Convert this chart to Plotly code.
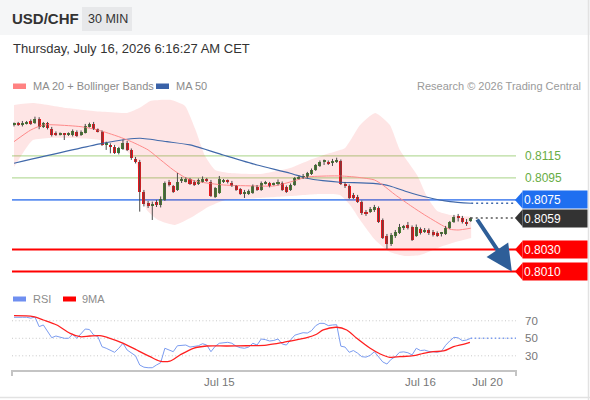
import plotly.graph_objects as go

# USD/CHF, 30 minute candles, one per half hour (index 0 = Jul 13 23:30)
opens = [0.81435, 0.81443, 0.81429, 0.81447, 0.81471, 0.81453, 0.81489, 0.81416, 0.81447, 0.81398,
         0.81362, 0.81343, 0.81346, 0.81344, 0.81338, 0.81368, 0.81341, 0.81362, 0.81416, 0.81441,
         0.81393, 0.81371, 0.81255, 0.81250, 0.81235, 0.81174, 0.81211, 0.81271, 0.81205, 0.81125,
         0.81098, 0.80820, 0.80726, 0.80700, 0.80732, 0.80705, 0.80750, 0.80914, 0.80877, 0.80841,
         0.80928, 0.80916, 0.80938, 0.80916, 0.80895, 0.80916, 0.80934, 0.80916, 0.80777, 0.80811,
         0.80914, 0.80918, 0.80907, 0.80877, 0.80847, 0.80808, 0.80805, 0.80811, 0.80871, 0.80841,
         0.80900, 0.80902, 0.80893, 0.80891, 0.80904, 0.80868, 0.80841, 0.80886, 0.80947, 0.80955,
         0.80955, 0.80986, 0.81023, 0.81055, 0.81095, 0.81093, 0.81086, 0.81102, 0.81105, 0.80895,
         0.80877, 0.80796, 0.80777, 0.80732, 0.80641, 0.80638, 0.80655, 0.80673, 0.80568, 0.80423,
         0.80350, 0.80423, 0.80449, 0.80502, 0.80523, 0.80505, 0.80423, 0.80486, 0.80465, 0.80477,
         0.80459, 0.80449, 0.80441, 0.80441, 0.80495, 0.80550, 0.80590, 0.80582, 0.80554, 0.80559]
highs = [0.81454, 0.81459, 0.81468, 0.81468, 0.81482, 0.81507, 0.81502, 0.81459, 0.81459, 0.81414,
         0.81373, 0.81364, 0.81359, 0.81364, 0.81391, 0.81382, 0.81382, 0.81441, 0.81453, 0.81459,
         0.81400, 0.81382, 0.81280, 0.81265, 0.81250, 0.81232, 0.81298, 0.81286, 0.81218, 0.81141,
         0.81114, 0.80841, 0.80741, 0.80735, 0.80750, 0.80782, 0.80918, 0.80932, 0.80886, 0.80995,
         0.80959, 0.80955, 0.80950, 0.80927, 0.80945, 0.80964, 0.80950, 0.80932, 0.80868, 0.80968,
         0.80941, 0.80936, 0.80923, 0.80886, 0.80859, 0.80841, 0.80845, 0.80891, 0.80886, 0.80918,
         0.80923, 0.80914, 0.80909, 0.80936, 0.80918, 0.80882, 0.80900, 0.80959, 0.80973, 0.80986,
         0.81005, 0.81036, 0.81077, 0.81109, 0.81118, 0.81109, 0.81123, 0.81134, 0.81118, 0.80914,
         0.80891, 0.80814, 0.80796, 0.80745, 0.80659, 0.80686, 0.80705, 0.80691, 0.80582, 0.80441,
         0.80450, 0.80477, 0.80532, 0.80523, 0.80550, 0.80518, 0.80527, 0.80500, 0.80495, 0.80491,
         0.80477, 0.80464, 0.80459, 0.80514, 0.80559, 0.80614, 0.80623, 0.80605, 0.80577, 0.80595]
lows = [0.81418, 0.81423, 0.81418, 0.81436, 0.81432, 0.81441, 0.81393, 0.81404, 0.81391, 0.81327,
        0.81332, 0.81336, 0.81295, 0.81332, 0.81327, 0.81323, 0.81332, 0.81354, 0.81409, 0.81386,
        0.81364, 0.81241, 0.81205, 0.81174, 0.81168, 0.81164, 0.81205, 0.81195, 0.81114, 0.81082,
        0.80644, 0.80691, 0.80677, 0.80568, 0.80686, 0.80682, 0.80741, 0.80873, 0.80814, 0.80832,
        0.80904, 0.80909, 0.80886, 0.80877, 0.80886, 0.80909, 0.80914, 0.80777, 0.80768, 0.80805,
        0.80904, 0.80900, 0.80868, 0.80832, 0.80796, 0.80768, 0.80796, 0.80805, 0.80832, 0.80832,
        0.80891, 0.80864, 0.80882, 0.80882, 0.80832, 0.80814, 0.80832, 0.80877, 0.80936, 0.80941,
        0.80945, 0.80977, 0.81014, 0.81050, 0.81068, 0.81068, 0.81059, 0.81086, 0.80886, 0.80859,
        0.80759, 0.80759, 0.80723, 0.80614, 0.80605, 0.80632, 0.80641, 0.80541, 0.80395, 0.80305,
        0.80332, 0.80405, 0.80441, 0.80477, 0.80482, 0.80377, 0.80414, 0.80436, 0.80450, 0.80432,
        0.80418, 0.80414, 0.80418, 0.80432, 0.80486, 0.80541, 0.80554, 0.80536, 0.80514, 0.80550]
closes = [0.81439, 0.81436, 0.81453, 0.81453, 0.81441, 0.81486, 0.81416, 0.81447, 0.81402, 0.81338,
          0.81341, 0.81348, 0.81341, 0.81350, 0.81380, 0.81332, 0.81371, 0.81423, 0.81441, 0.81393,
          0.81371, 0.81250, 0.81259, 0.81229, 0.81180, 0.81220, 0.81271, 0.81205, 0.81129, 0.81098,
          0.80825, 0.80714, 0.80695, 0.80706, 0.80705, 0.80762, 0.80907, 0.80884, 0.80825, 0.80916,
          0.80934, 0.80938, 0.80895, 0.80886, 0.80932, 0.80938, 0.80930, 0.80786, 0.80856, 0.80938,
          0.80918, 0.80914, 0.80877, 0.80841, 0.80805, 0.80813, 0.80832, 0.80877, 0.80845, 0.80902,
          0.80905, 0.80875, 0.80898, 0.80914, 0.80841, 0.80825, 0.80886, 0.80947, 0.80952, 0.80959,
          0.80991, 0.81023, 0.81064, 0.81095, 0.81099, 0.81077, 0.81091, 0.81107, 0.80895, 0.80877,
          0.80768, 0.80771, 0.80732, 0.80632, 0.80627, 0.80668, 0.80686, 0.80550, 0.80405, 0.80350,
          0.80432, 0.80459, 0.80507, 0.80507, 0.80495, 0.80386, 0.80505, 0.80450, 0.80468, 0.80446,
          0.80432, 0.80423, 0.80445, 0.80495, 0.80546, 0.80595, 0.80586, 0.80546, 0.80539, 0.80586]
candle_idx = list(range(len(opens)))

# overlays (candle index, value)
ma20_idx = [0, 4, 7, 10, 16, 20, 25, 28, 32, 35, 38, 41, 44, 50, 58, 62, 66, 70, 75, 78,
            82, 86, 88, 91, 95, 98, 102, 104, 106, 109]
ma20 = [0.81280, 0.81386, 0.81432, 0.81432, 0.81416, 0.81386, 0.81325, 0.81280, 0.81205, 0.81114,
        0.81023, 0.80950, 0.80916, 0.80886, 0.80877, 0.80877, 0.80914, 0.80959, 0.80968, 0.80968,
        0.80956, 0.80932, 0.80886, 0.80796, 0.80689, 0.80614, 0.80523, 0.80484, 0.80477, 0.80493]

bb_upper_idx = [0, 4.5, 12.6, 20.5, 27, 30.1, 32.5, 37.2, 40.8, 43.2, 45.6, 48, 51.6, 58.7,
                65.9, 70.6, 75.4, 79, 82.6, 86.2, 89.7, 92.1, 96.2, 98.6, 101, 104.1, 109.1]
bb_upper = [0.81614, 0.81632, 0.81586, 0.81553, 0.81541, 0.81590, 0.81650, 0.81660, 0.81605, 0.81400,
            0.81150, 0.81023, 0.80995, 0.80986, 0.81041, 0.81114, 0.81177, 0.81223, 0.81432, 0.81541,
            0.81432, 0.81205, 0.80977, 0.80777, 0.80650, 0.80614, 0.80598]
bb_lower_idx = [0, 2.6, 4.5, 8.6, 20.5, 26.5, 28.9, 30.5, 31.7, 34.4, 38.4, 42.5, 46.3, 50.4,
                58.7, 65.9, 73, 77.8, 80.2, 82.6, 86.2, 89.7, 93.3, 96.9, 101.7, 105.3, 109.1]
bb_lower = [0.81050, 0.81205, 0.81295, 0.81314, 0.81295, 0.81205, 0.81114, 0.80841, 0.80659, 0.80568,
            0.80523, 0.80595, 0.80686, 0.80750, 0.80768, 0.80786, 0.80805, 0.80796, 0.80705, 0.80568,
            0.80386, 0.80277, 0.80241, 0.80250, 0.80323, 0.80368, 0.80405]

ma50_idx = [0, 20.5, 27, 30.1, 36.5, 42, 49.9, 58, 65.9, 69.9, 73.7, 77.8, 85.7, 89.7, 93.8,
            98.6, 104.1, 109.1]
ma50 = [0.81084, 0.81259, 0.81302, 0.81311, 0.81280, 0.81250, 0.81159, 0.81068, 0.80993, 0.80947,
        0.80925, 0.80911, 0.80900, 0.80877, 0.80825, 0.80775, 0.80735, 0.80720]

# RSI panel
rsi = [74, 74.3, 74, 74, 73, 74.3, 63.3, 65.2, 58, 50.7,
       52.6, 51.5, 50, 50, 54.6, 50, 55.7, 60.6, 60, 53.8,
       52, 40.4, 38.6, 36, 34, 38.6, 44.3, 36.6, 32.9, 30,
       19.5, 17, 16.4, 16.4, 19.5, 22.1, 38.6, 36.6, 34.7, 41.5,
       41.5, 42.3, 40, 40.5, 41.5, 43.8, 42.3, 34.7, 40.8, 44.3,
       45, 45.4, 44.3, 41, 39.3, 38.6, 40, 44.3, 42.3, 49.2,
       48.5, 46.9, 47.5, 49.2, 43.5, 42.3, 48, 53.5, 55, 56.4,
       56, 58.7, 64.4, 67.1, 67, 64.5, 65.2, 65.5, 41, 40,
       34, 36, 33, 29, 28.5, 30.5, 34.7, 29, 23, 20.6,
       26, 29, 34, 34.5, 33.5, 31, 38.6, 36, 36.5, 35,
       34.7, 34.2, 35, 42, 47, 51.1, 50.5, 47.3, 48, 50]
rsi_ma_idx = [0, 4.6, 7, 10.2, 13.4, 15.8, 18.1, 20.5, 22.9, 26.1, 29.3, 32.5, 34.8, 37.2, 39.6,
              42.8, 46, 50.8, 55.5, 60.3, 64.3, 65.9, 69.9, 72.2, 73.8, 77, 79.4, 81.8, 85, 87.4,
              89.7, 92.1, 95.3, 97.7, 100, 102.5, 104.9, 107.2, 108.8]
rsi_ma = [75.8, 74.7, 70.9, 65.2, 55.7, 51.8, 52.6, 53, 50, 44.3, 36.6, 29, 24, 24, 30.9,
          38.6, 41.2, 41.2, 41.5, 42.3, 45.4, 46.9, 50.7, 54.6, 59.5, 62.6, 59.5, 50, 38.6, 32.1,
          28.3, 29, 30.1, 32.9, 34.7, 35.5, 40.4, 43.1, 45.4]
rsi_levels = [70, 50, 30]

levels = [0.8115, 0.8095, 0.8075, 0.8030, 0.8010]
level_text = ["0.8115", "0.8095", "0.8075", "0.8030", "0.8010"]
level_kind = ["resist", "resist", "pivot", "support", "support"]
last_text = "0.8059"

tick_idx = [49, 97, 113]
tick_text = ["Jul 15", "Jul 16", "Jul 20"]

# expected move: from the last close down to the second support
arrow_idx = [110.3, 118.8]
arrow_price = [closes[-1], levels[-1]]

# ---------------------------------------------------------------------------
W, H = 590, 400


def px(x):
    return x / W


def py(y):
    return 1 - y / H


FONT = "Arial, Liberation Sans, sans-serif"
GREEN, RED = "#348a34", "#e8161c"
X_RANGE = [-0.48, 119.8]
Y_RANGE = [0.79977, 0.81704]
PRICE_TOP, PRICE_BOT = 95, 285
RSI_RANGE = [13.8, 82.3]
price_per_px = (Y_RANGE[1] - Y_RANGE[0]) / (PRICE_BOT - PRICE_TOP)

fig = go.Figure()

# Bollinger band
fig.add_trace(go.Scatter(x=bb_upper_idx, y=bb_upper, mode="lines",
                         line=dict(width=0, shape="spline", smoothing=0.5), hoverinfo="skip"))
fig.add_trace(go.Scatter(x=bb_lower_idx, y=bb_lower, mode="lines", fill="tonexty",
                         fillcolor="rgba(250,40,40,0.12)",
                         line=dict(width=0, shape="spline", smoothing=0.5), hoverinfo="skip"))

fig.add_trace(go.Scatter(x=ma50_idx, y=ma50, mode="lines",
                         line=dict(color="#4169aa", width=1.2, shape="spline", smoothing=0.6)))
fig.add_trace(go.Scatter(x=[ma50_idx[-1], X_RANGE[1]], y=[ma50[-1], ma50[-1]], mode="lines",
                         line=dict(color="#4169aa", width=1.5, dash="2px,3px")))
fig.add_trace(go.Scatter(x=ma20_idx, y=ma20, mode="lines",
                         line=dict(color="#ff8a8a", width=1, shape="spline", smoothing=0.6)))

# candles: wicks then bodies
wx, wy = [], []
for i, h, l in zip(candle_idx, highs, lows):
    wx += [i, i, None]
    wy += [l, h, None]
fig.add_trace(go.Scatter(x=wx, y=wy, mode="lines", line=dict(color="#4a4a4a", width=1),
                         hoverinfo="skip"))
min_body = 1.2 * price_per_px
fig.add_trace(go.Bar(
    x=candle_idx,
    y=[max(abs(c - o), min_body) for o, c in zip(opens, closes)],
    base=[min(o, c) for o, c in zip(opens, closes)],
    width=0.72,
    marker=dict(color=[GREEN if c >= o else RED for o, c in zip(opens, closes)], line=dict(width=0)),
))

# last price dotted
fig.add_trace(go.Scatter(x=[candle_idx[-1], X_RANGE[1]], y=[closes[-1], closes[-1]], mode="lines",
                         line=dict(color="#555555", width=1.5, dash="2px,3px")))

# RSI
fig.add_trace(go.Scatter(x=candle_idx, y=rsi, mode="lines", xaxis="x2", yaxis="y2",
                         line=dict(color="#7b9cf0", width=1)))
fig.add_trace(go.Scatter(x=[candle_idx[-1], X_RANGE[1]], y=[rsi[-1], rsi[-1]], mode="lines",
                         xaxis="x2", yaxis="y2",
                         line=dict(color="#7b9cf0", width=1.5, dash="1.5px,2.5px")))
fig.add_trace(go.Scatter(x=rsi_ma_idx, y=rsi_ma, mode="lines", xaxis="x2", yaxis="y2",
                         line=dict(color="#ff2020", width=1.3, shape="spline", smoothing=0.8)))

shapes = [
    # header band, border and timeframe chip
    dict(type="rect", xref="paper", yref="paper", x0=0, x1=1, y0=py(35), y1=1,
         fillcolor="#f5f6f7", line_width=0, layer="below"),
    dict(type="line", xref="paper", yref="paper", x0=px(588.5), x1=px(588.5), y0=0, y1=1,
         line=dict(color="#e2e2e2", width=1.5)),
    dict(type="line", xref="paper", yref="paper", x0=0, x1=1, y0=py(397.5), y1=py(397.5),
         line=dict(color="#e2e2e2", width=1.5)),
    dict(type="rect", xref="paper", yref="paper", x0=px(82), x1=px(132), y0=py(31), y1=py(7),
         fillcolor="#e7e8ea", line_width=0),
    # legend swatches
    dict(type="rect", xref="paper", yref="paper", x0=px(13), x1=px(26), y0=py(89), y1=py(83.5),
         fillcolor="#ff8282", line_width=0),
    dict(type="rect", xref="paper", yref="paper", x0=px(156), x1=px(169), y0=py(89), y1=py(83.5),
         fillcolor="#3a62a8", line_width=0),
    dict(type="rect", xref="paper", yref="paper", x0=px(13), x1=px(26), y0=py(301.5), y1=py(296.5),
         fillcolor="#6f8ff0", line_width=0),
    dict(type="rect", xref="paper", yref="paper", x0=px(63), x1=px(76), y0=py(301.5), y1=py(296.5),
         fillcolor="#ff0000", line_width=0),
    # end ticks of the time axis
    dict(type="line", xref="x2 domain", yref="paper", x0=0, x1=0, y0=py(370), y1=py(376),
         line=dict(color="#c4c4c4", width=2)),
    dict(type="line", xref="x2 domain", yref="paper", x0=1, x1=1, y0=py(370), y1=py(376),
         line=dict(color="#c4c4c4", width=2)),
]
for lv in rsi_levels:
    shapes.append(dict(type="line", xref="x2 domain", yref="y2", x0=0, x1=1, y0=lv, y1=lv,
                       line=dict(color="#c8c8c8", width=1, dash="1px,2.4px"), layer="below"))

LINE_STYLE = {"resist": ("#b9dc9e", 1.2), "pivot": ("#5d8ff0", 1.8), "support": ("#ff0000", 2)}
BOX_COLOR = {"pivot": "#1f6ff0", "support": "#ff0000"}
half = 8.5 * price_per_px

annotations = [
    dict(text="<b>USD/CHF</b>", x=px(10), y=py(19), font=dict(size=15, color="#333333")),
    dict(text="30 MIN", x=px(86), y=py(19), font=dict(size=12.5, color="#333333")),
    dict(text="Thursday, July 16, 2026 6:16:27 AM CET", x=px(11), y=py(48),
         font=dict(size=13, color="#333333")),
    dict(text="MA 20 + Bollinger Bands", x=px(31), y=py(86), font=dict(size=11, color="#8c8c8c")),
    dict(text="MA 50", x=px(174), y=py(86), font=dict(size=11, color="#8c8c8c")),
    dict(text="Research © 2026 Trading Central", x=px(583), y=py(86), xanchor="right",
         font=dict(size=11, color="#9a9a9a")),
    dict(text="RSI", x=px(31), y=py(299), font=dict(size=11, color="#8c8c8c")),
    dict(text="9MA", x=px(80), y=py(299), font=dict(size=11, color="#8c8c8c")),
]
for lv in rsi_levels:
    annotations.append(dict(text=str(lv), x=px(523), y=lv, yref="y2",
                            font=dict(size=11.5, color="#777777")))


def price_box(level, text, color):
    shapes.append(dict(type="path", xref="paper", yref="y",
                       path=f"M {px(515)},{level} L {px(522.5)},{level + half} "
                            f"L {px(522.5)},{level - half} Z",
                       fillcolor=color, line_width=0))
    annotations.append(dict(text=text, x=px(522), y=level, yref="y", bgcolor=color,
                            width=62, height=15, borderpad=1, align="left",
                            font=dict(size=12, color="white")))


for lv, txt, kind in zip(levels, level_text, level_kind):
    col, lw = LINE_STYLE[kind]
    shapes.append(dict(type="line", xref="x domain", yref="y", x0=0, x1=1, y0=lv, y1=lv,
                       line=dict(color=col, width=lw), layer="below"))
    if kind == "resist":
        annotations.append(dict(text=txt, x=px(523), y=lv, yref="y",
                                font=dict(size=12, color="#68ad45")))
    else:
        price_box(lv, txt, BOX_COLOR[kind])
price_box(closes[-1], last_text, "#333333")

for a in annotations:
    a.setdefault("xref", "paper")
    a.setdefault("yref", "paper")
    a.setdefault("xanchor", "left")
    a.setdefault("yanchor", "middle")
    a.setdefault("showarrow", False)
    a["font"].setdefault("family", FONT)

annotations.append(dict(x=arrow_idx[1], y=arrow_price[1], ax=arrow_idx[0], ay=arrow_price[0],
                        xref="x", yref="y", axref="x", ayref="y", text="", showarrow=True,
                        arrowhead=2, arrowsize=1.3, arrowwidth=4, arrowcolor="#2e5e98"))

fig.update_layout(
    width=W, height=H,
    margin=dict(l=0, r=0, t=0, b=0),
    paper_bgcolor="white", plot_bgcolor="rgba(0,0,0,0)",
    showlegend=False, hovermode=False, bargap=0,
    font=dict(family=FONT),
    xaxis=dict(domain=[px(12), px(516)], range=X_RANGE, visible=False, anchor="y"),
    yaxis=dict(domain=[py(PRICE_BOT), py(PRICE_TOP)], range=Y_RANGE, visible=False, anchor="x"),
    xaxis2=dict(domain=[px(12), px(516)], range=X_RANGE, anchor="y2", showline=True,
                linecolor="#c4c4c4", linewidth=2, showgrid=False, zeroline=False, ticks="",
                tickmode="array", tickvals=tick_idx, ticktext=tick_text,
                tickfont=dict(size=11.5, color="#777777", family=FONT)),
    yaxis2=dict(domain=[py(370), py(310)], range=RSI_RANGE, visible=False, anchor="x2"),
    shapes=shapes,
    annotations=annotations,
)

# the page body has a default margin; drop it so the figure sits at the window origin
fig.write_html("out.html", config={"displayModeBar": False},
               post_script="document.body.style.margin = '0';")
